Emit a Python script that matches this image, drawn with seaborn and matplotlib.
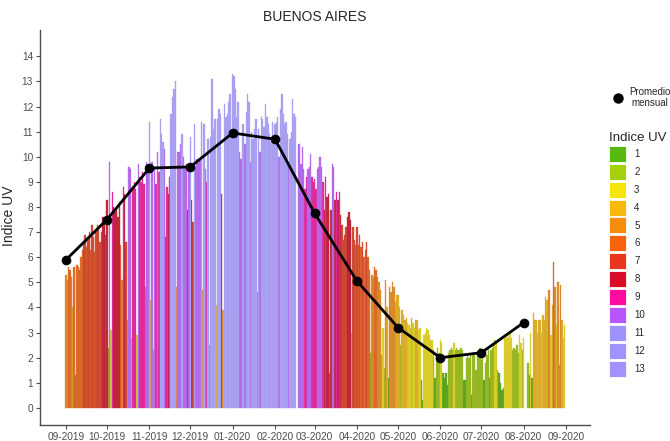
import numpy as np
import pandas as pd
import seaborn as sns
import matplotlib.pyplot as plt
from matplotlib.patches import Patch
from matplotlib.lines import Line2D

# --- daily UV index (Buenos Aires), one list per month ---
sep_2019 = [5.3, 5.1, 5.6, 5.5, 5.2, 4.0, 5.6, 1.3, 5.7, 5.6, 5.5, 6.0, 6.3, 6.6, 6.9,
            6.4, 6.7, 7.0, 6.3, 7.3, 6.8, 6.2, 7.0, 7.3, 7.1, 6.6, 7.0, 7.6, 7.5, 6.9]
oct_2019 = [8.3, 2.4, 9.8, 3.1, 8.6, 8.0, 7.8, 7.9, 7.6, 8.2, 6.5, 5.1, 8.8, 8.5, 6.6, 3.5,
            9.6, 9.5, 2.8, 8.8, 9.0, 8.7, 2.9, 9.7, 9.2, 9.0, 9.4, 8.9, 4.8, 9.8, 9.6]
nov_2019 = [11.4, 4.3, 9.8, 2.3, 9.6, 8.9, 10.2, 9.4, 11.5, 10.9, 10.6, 10.3, 6.8, 8.8, 8.5,
            9.2, 11.7, 12.4, 12.7, 13.0, 4.8, 10.2, 10.2, 10.5, 10.9, 10.0, 9.6, 9.7, 7.9, 9.5]
dec_2019 = [10.8, 8.3, 7.4, 11.3, 9.6, 9.9, 9.8, 9.9, 11.4, 4.7, 11.3, 9.5, 9.0, 10.7, 2.5, 10.8,
            13.1, 11.1, 11.5, 4.1, 11.5, 11.9, 11.7, 8.5, 3.9, 12.1, 11.6, 11.7, 12.2, 12.5, 11.0]
jan_2020 = [13.3, 13.2, 12.7, 11.6, 12.2, 10.2, 9.9, 11.3, 11.3, 10.5, 11.8, 12.5, 12.2, 9.8, 11.0,
            10.7, 11.1, 11.5, 4.6, 11.1, 10.2, 11.6, 11.5, 11.2, 12.1, 11.6, 11.3, 10.9, 10.6, 11.4, 10.8]
feb_2020 = [11.3, 11.4, 11.6, 10.0, 11.9, 12.5, 11.7, 11.3, 11.4, 10.9, 9.8, 10.7, 11.0, 12.3, 11.7,
            11.6, np.nan, 10.5, 10.5, 9.7, 10.4, 9.5, 8.7, 9.2, 9.5, 9.6, 10.1, 9.2, 9.0]
mar_2020 = [9.1, 8.7, 9.5, 9.6, 10.0, 9.6, 9.0, 7.9, 9.2, 8.4, 8.5, 1.4, 7.9, 9.7, 9.6, 8.3,
            8.6, 8.3, 8.6, 7.7, 7.3, 6.7, 6.9, 7.2, 7.6, 7.8, 7.5, 3.0, 7.2, 6.7, 6.5]
apr_2020 = [7.2, 6.5, 6.9, 6.4, 6.6, 6.0, 6.3, 6.6, 6.0, 5.5, 2.2, 5.3, 5.2, 5.6, 5.5,
            5.2, 5.0, 4.7, 2.1, 3.2, 1.6, 5.1, 4.0, 1.2, 4.8, 4.6, 5.0, 4.8, 4.2, 4.5]
may_2020 = [4.5, 4.0, 2.5, 3.9, 3.7, 3.5, 3.6, 3.4, 3.3, 3.2, 3.6, 3.4, 3.2, 3.5, 3.5, 3.1,
            3.2, 1.1, 0.3, 2.9, 3.0, 3.2, 3.1, 2.9, 2.7, 2.7, 2.3, 1.2, 2.1, 2.4, 2.2]
jun_2020 = [2.7, 2.6, 1.4, 1.2, 1.4, 0.9, 2.2, 2.3, 2.4, 2.3, 2.6, 2.3, 2.4, 2.3, 2.3,
            2.4, 2.3, 1.1, 1.1, 2.0, 2.1, 2.0, 2.1, 0.5, 2.2, 2.1, 1.5, 2.2, 2.0, 2.4]
jul_2020 = [1.9, 2.3, 1.1, 1.8, 2.1, 2.3, 1.2, 2.3, 2.4, 2.5, 2.7, 2.6, 1.5, 1.4, 1.0, 0.7,
            0.8, 2.9, 2.8, 2.9, 2.8, 3.0, 2.8, 2.3, 2.4, 2.3, 2.5, 2.2, 2.9, 2.6, 2.3]
aug_2020 = [2.8, np.nan, np.nan, 1.8, 1.3, 3.0, 1.2, 3.8, 3.5, 3.5, 3.0, 3.5, 3.5, 3.0, 3.7, 3.5,
            4.4, 4.3, 4.7, 4.7, 2.9, 4.1, 5.8, 4.8, 3.3, 5.0, 1.7, 4.9, 3.5, 2.8, 3.3]

# monthly mean (black line), plotted at the first day of each month
month_starts = ["2019-09-01", "2019-10-01", "2019-11-01", "2019-12-01", "2020-01-01", "2020-02-01",
                "2020-03-01", "2020-04-01", "2020-05-01", "2020-06-01", "2020-07-01", "2020-08-01"]
monthly_mean = [5.9, 7.5, 9.55, 9.6, 10.95, 10.7, 7.75, 5.05, 3.2, 2.0, 2.2, 3.4]

tick_dates = month_starts + ["2020-09-01"]
tick_labels = ["09-2019", "10-2019", "11-2019", "12-2019", "01-2020", "02-2020", "03-2020",
               "04-2020", "05-2020", "06-2020", "07-2020", "08-2020", "09-2020"]

uv_levels = [str(i) for i in range(1, 14)]
uv_colors = ["#4EB400", "#A0CE00", "#F7E400", "#F8B600", "#F88700", "#F85900", "#E82C0E",
             "#D8001D", "#FF0099", "#B54CFF", "#998CFF", "#9A8EFF", "#9C8CFF"]

# ---------------------------------------------------------------------------
start = pd.Timestamp("2019-09-01")
daily = (sep_2019 + oct_2019 + nov_2019 + dec_2019 + jan_2020 + feb_2020 +
         mar_2020 + apr_2020 + may_2020 + jun_2020 + jul_2020 + aug_2020)
dates = pd.date_range(start, periods=len(daily), freq="D")

df = pd.DataFrame({"day": (dates - start).days, "uv": daily}).dropna()
df["nivel"] = df["uv"].round().clip(1, 13).astype(int).astype(str)

mean_df = pd.DataFrame({
    "day": (pd.to_datetime(month_starts) - start).days,
    "uv": monthly_mean,
})
tick_pos = (pd.to_datetime(tick_dates) - start).days

sns.set_style("ticks")
plt.rcParams["font.family"] = ["Liberation Sans", "DejaVu Sans"]

fig = plt.figure(figsize=(6.7, 4.41), dpi=100)
ax = fig.add_axes([40 / 670, 16 / 441, 550 / 670, 395 / 441])

palette = dict(zip(uv_levels, uv_colors))
sns.barplot(data=df, x="day", y="uv", hue="nivel", hue_order=uv_levels, palette=palette,
            native_scale=True, dodge=False, width=1.0, linewidth=0, alpha=0.92,
            legend=False, ax=ax)
# thin same-colour edge so the 1-day bars don't fade out with antialiasing
for bar in ax.patches:
    bar.set_edgecolor(bar.get_facecolor())
    bar.set_linewidth(0.25)

sns.lineplot(data=mean_df, x="day", y="uv", color="black", lw=2.0, marker="o",
             markersize=6.2, markeredgecolor="black", ax=ax, zorder=5)

ax.set_xlim(-19, 383.5)
ax.set_ylim(-0.68, 15.05)
ax.set_yticks(range(0, 15))
ax.set_xticks(tick_pos)
ax.set_xticklabels(tick_labels)
ax.tick_params(axis="both", labelsize=7.3, colors="#4D4D4D", length=3, width=0.8, pad=2)
ax.set_xlabel("")
ax.set_ylabel("Indice UV", fontsize=10, labelpad=2)
ax.yaxis.set_label_coords(-24 / 550, 0.53)
sns.despine(ax=ax)
for side in ["left", "bottom"]:
    ax.spines[side].set_color("#4D4D4D")
    ax.spines[side].set_linewidth(1.0)

fig.text(315 / 670, 1 - 17 / 441, "BUENOS AIRES", ha="center", va="center", fontsize=10)

# legends on the right, ggplot-like
mean_handle = Line2D([], [], color="black", marker="o", linestyle="none", markersize=6.5)
leg1 = fig.legend([mean_handle], ["Promedio\nmensual"], loc="upper left",
                  bbox_to_anchor=(603 / 670, 1 - 78 / 441), frameon=False, fontsize=7,
                  handletextpad=0.6, handlelength=1.2)
for t in leg1.get_texts():
    t.set_multialignment("center")

uv_handles = [Patch(facecolor=c, edgecolor="white", linewidth=0.6, alpha=0.95) for c in uv_colors]
leg2 = fig.legend(uv_handles, uv_levels, loc="upper left", title="Indice UV",
                  bbox_to_anchor=(605 / 670, 1 - 128 / 441), frameon=False, fontsize=7,
                  title_fontsize=9.5, handlelength=1.8, handleheight=2.15,
                  labelspacing=0.2, handletextpad=0.8, borderaxespad=0)
leg2._legend_box.align = "left"

fig.savefig("out.png", dpi=100)
